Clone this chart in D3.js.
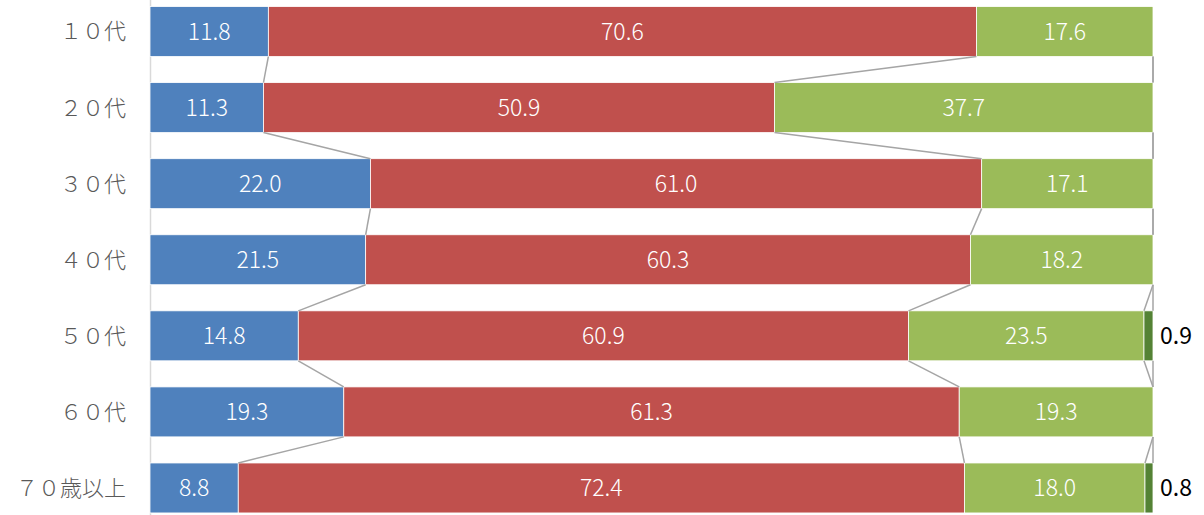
<!DOCTYPE html>
<html><head><meta charset="utf-8">
<script src="https://cdn.jsdelivr.net/npm/d3@7"></script>
<style>body{margin:0;background:#fff}svg{display:block}</style>
</head><body>
<svg id="c" width="1204" height="515"></svg>
<script>
const categories = ["１０代","２０代","３０代","４０代","５０代","６０代","７０歳以上"];
const seriesA = [11.8, 11.3, 22.0, 21.5, 14.8, 19.3, 8.8];
const seriesB = [70.6, 50.9, 61.0, 60.3, 60.9, 61.3, 72.4];
const seriesC = [17.6, 37.7, 17.1, 18.2, 23.5, 19.3, 18.0];
const seriesD = [0, 0, 0, 0, 0.9, 0, 0.8];
const colors = ["#4f81bd", "#c0504d", "#9bbb59", "#548235"];
const allSeries = [seriesA, seriesB, seriesC, seriesD];

const svg = d3.select("#c");
const x = d3.scaleLinear().domain([0, 100]).range([150, 1153]);
const y = d3.scaleBand().domain(categories).range([-6.5, 526]).paddingInner(0.343).paddingOuter(0.1715);

const rows = categories.map((c, i) => {
  const vals = allSeries.map(s => s[i]);
  const tot = d3.sum(vals);
  let acc = 0;
  return vals.map((v, k) => { const x0 = acc / tot * 100; acc += v; return {cat: c, k, v, x0, x1: acc / tot * 100}; });
});

svg.append("line").attr("x1", 150.5).attr("x2", 150.5).attr("y1", 0).attr("y2", 515)
  .attr("stroke", "#d9d9d9").attr("stroke-width", 1.5);

rows.forEach(r => {
  r.forEach(d => {
    if (d.v <= 0) return;
    svg.append("rect").attr("x", x(d.x0)).attr("y", y(d.cat))
      .attr("width", x(d.x1) - x(d.x0)).attr("height", y.bandwidth())
      .attr("fill", colors[d.k]).attr("stroke", "#ffffff").attr("stroke-width", 0.8);
  });
});

for (let i = 0; i < rows.length - 1; i++) {
  for (let k = 0; k < 4; k++) {
    const a = rows[i][k], b = rows[i + 1][k];
    svg.append("line")
      .attr("x1", x(a.x1)).attr("y1", y(a.cat) + y.bandwidth())
      .attr("x2", x(b.x1)).attr("y2", y(b.cat))
      .attr("stroke", "#a5a5a5").attr("stroke-width", 1.5);
  }
}

const font = "'Noto Sans CJK JP', 'Noto Sans', sans-serif";
rows.forEach(r => {
  r.forEach(d => {
    if (d.v <= 0) return;
    const cy = y(d.cat) + y.bandwidth() / 2;
    if (d.k === 3) {
      svg.append("text").attr("x", x(d.x1) + 7).attr("y", cy).attr("dy", "0.36em")
        .attr("font-family", font).attr("font-size", 23).attr("fill", "#000")
        .text(d.v.toFixed(1));
    } else {
      svg.append("text").attr("x", (x(d.x0) + x(d.x1)) / 2).attr("y", cy).attr("dy", "0.36em")
        .attr("text-anchor", "middle").attr("font-family", font).attr("font-size", 23)
        .attr("font-weight", 300).attr("fill", "#ffffff").text(d.v.toFixed(1));
    }
  });
});

categories.forEach(c => {
  svg.append("text").attr("x", 126).attr("y", y(c) + y.bandwidth() / 2).attr("dy", "0.36em")
    .attr("text-anchor", "end").attr("font-family", font).attr("font-size", 22)
    .attr("font-weight", 300).attr("fill", "#595959").text(c);
});
</script>
</body></html>
